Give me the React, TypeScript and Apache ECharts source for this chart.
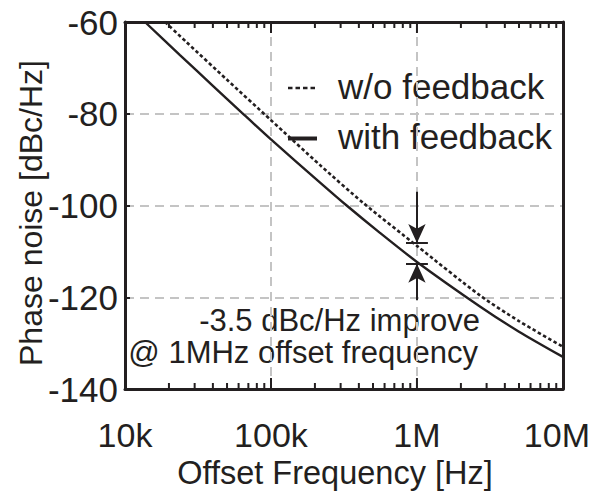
import React, { useEffect, useRef } from "react";
import * as echarts from "echarts";

// ---- data ----
const xTickValues = [1e4, 1e5, 1e6, 1e7];
const xTickLabels = ["10k", "100k", "1M", "10M"];

const freqWithFb = [13700, 23800, 40000, 63300, 100000, 217000, 330000, 550000, 1000000, 2700000, 5000000, 10000000];
const dbWithFb = [-60, -67.2, -73.9, -79.8, -85.6, -95.0, -100.0, -105.8, -112.3, -122.0, -127.5, -133.0];

const freqWithoutFb = [18800, 26400, 50000, 100000, 217000, 427000, 1000000, 2700000, 5000000, 10000000];
const dbWithoutFb = [-60, -64.4, -72.6, -81.4, -91.2, -99.4, -108.8, -119.6, -125.2, -130.8];

const minorTickFreqs = [
  2e4, 3e4, 4e4, 5e4, 6e4, 7e4, 8e4, 9e4,
  2e5, 3e5, 4e5, 5e5, 6e5, 7e5, 8e5, 9e5,
  2e6, 3e6, 4e6, 5e6, 6e6, 7e6, 8e6, 9e6,
];
const majorTickFreqs = [1e5, 1e6];

// annotation (improvement at 1 MHz)
const markFreq = 1e6;
const improvementUpper = -108.2;
const improvementLower = -112.7;
const arrowTopStart = -97.0;
const arrowBottomStart = -120.6;
const barHalfDecades = 0.075;

const INK = "#231f20";
const FONT = "Liberation Sans, Arial, Helvetica, sans-serif";

export default function App() {
  const ref = useRef<HTMLDivElement>(null);

  useEffect(() => {
    document.body.style.margin = "0";
    if (!ref.current) return;
    const chart = echarts.init(ref.current, undefined, { renderer: "svg" });

    const yMin = -140;
    const yMax = -60;

    const tickData = [
      ...minorTickFreqs.map((f) => [f, yMin, 0]),
      ...majorTickFreqs.map((f) => [f, yMin, 1]),
    ];

    const barL = markFreq * Math.pow(10, -barHalfDecades);
    const barR = markFreq * Math.pow(10, barHalfDecades);

    const xLabelFormatter = (v: number) => {
      const idx = xTickValues.findIndex((t) => Math.abs(Math.log10(t) - Math.log10(v)) < 1e-6);
      if (idx < 0) return "";
      if (idx === xTickValues.length - 1) return "{last|" + xTickLabels[idx] + "}";
      return xTickLabels[idx];
    };

    const option: any = {
      animation: false,
      grid: { left: 125, right: 30, top: 22, bottom: 107, containLabel: false },
      xAxis: [
        {
          type: "log",
          logBase: 10,
          min: 1e4,
          max: 1e7,
          name: "Offset Frequency [Hz]",
          nameLocation: "middle",
          nameGap: 66,
          nameTextStyle: { fontSize: 32.5, color: INK, fontFamily: FONT, padding: [0, 18, 0, 0] },
          axisLine: { show: true, onZero: false, lineStyle: { color: INK, width: 3 } },
          axisTick: { show: false },
          minorTick: { show: false },
          axisLabel: {
            fontSize: 34,
            color: INK,
            fontFamily: FONT,
            margin: 29,
            formatter: xLabelFormatter,
            rich: { last: { fontSize: 34, color: INK, fontFamily: FONT, padding: [0, 12, 0, 0] } },
          },
          splitLine: { show: true, lineStyle: { color: "#c4c4c4", width: 2, type: [9, 6] } },
        },
        {
          type: "log",
          logBase: 10,
          min: 1e4,
          max: 1e7,
          position: "top",
          axisLine: { show: true, onZero: false, lineStyle: { color: INK, width: 3 } },
          axisTick: { show: false },
          axisLabel: { show: false },
          splitLine: { show: false },
        },
      ],
      yAxis: [
        {
          type: "value",
          min: yMin,
          max: yMax,
          interval: 20,
          axisLine: { show: true, onZero: false, lineStyle: { color: INK, width: 3 } },
          axisTick: { show: true, inside: true, length: 5, lineStyle: { color: INK, width: 2 } },
          axisLabel: { fontSize: 35, color: INK, fontFamily: FONT, margin: 7 },
          splitLine: { show: true, lineStyle: { color: "#c4c4c4", width: 2, type: [9, 6] } },
        },
        {
          type: "value",
          min: yMin,
          max: yMax,
          interval: 20,
          position: "right",
          axisLine: { show: true, onZero: false, lineStyle: { color: INK, width: 3 } },
          axisTick: { show: false },
          axisLabel: { show: false },
          splitLine: { show: false },
        },
      ],
      series: [
        {
          name: "w/o feedback",
          type: "line",
          data: freqWithoutFb.map((f, i) => [f, dbWithoutFb[i]]),
          showSymbol: false,
          smooth: 0.25,
          lineStyle: { color: INK, width: 2.6, type: [3.5, 2.5] },
          z: 3,
        },
        {
          name: "with feedback",
          type: "line",
          data: freqWithFb.map((f, i) => [f, dbWithFb[i]]),
          showSymbol: false,
          smooth: 0.25,
          lineStyle: { color: INK, width: 2.4 },
          z: 3,
          markLine: {
            silent: true,
            animation: false,
            symbol: ["none", "arrow"],
            symbolSize: [13, 19],
            label: { show: false },
            lineStyle: { color: INK, width: 2, type: "solid" },
            data: [
              [{ coord: [markFreq, arrowTopStart] }, { coord: [markFreq, improvementUpper] }],
              [{ coord: [markFreq, arrowBottomStart] }, { coord: [markFreq, improvementLower] }],
              [
                { coord: [barL, improvementUpper], symbol: "none" },
                { coord: [barR, improvementUpper], symbol: "none" },
              ],
              [
                { coord: [barL, improvementLower], symbol: "none" },
                { coord: [barR, improvementLower], symbol: "none" },
              ],
            ],
          },
        },
        {
          type: "custom",
          silent: true,
          encode: { x: 0, y: 1 },
          data: tickData,
          z: 4,
          renderItem: (params: any, api: any) => {
            const f = api.value(0);
            const major = api.value(2) === 1;
            const len = major ? 11 : 6;
            const b = api.coord([f, yMin]);
            const t = api.coord([f, yMax]);
            const style = { stroke: INK, lineWidth: 2 };
            return {
              type: "group",
              children: [
                { type: "line", shape: { x1: b[0], y1: b[1], x2: b[0], y2: b[1] - len }, style },
                { type: "line", shape: { x1: t[0], y1: t[1], x2: t[0], y2: t[1] + len }, style },
              ],
            };
          },
        },
      ],
      graphic: [
        {
          type: "text",
          x: 31,
          y: 213,
          rotation: Math.PI / 2,
          style: { text: "Phase noise [dBc/Hz]", fontSize: 32, fill: INK, fontFamily: FONT, align: "center", verticalAlign: "middle" },
        },
        {
          type: "line",
          shape: { x1: 288, y1: 88, x2: 317, y2: 88 },
          style: { stroke: INK, lineWidth: 2.6, lineDash: [4.5, 3] },
        },
        {
          type: "text",
          x: 338,
          y: 86,
          style: { text: "w/o feedback", fontSize: 35, fill: INK, fontFamily: FONT, verticalAlign: "middle" },
        },
        {
          type: "line",
          shape: { x1: 288, y1: 138.5, x2: 317, y2: 138.5 },
          style: { stroke: INK, lineWidth: 4 },
        },
        {
          type: "text",
          x: 338,
          y: 136,
          style: { text: "with feedback", fontSize: 35, fill: INK, fontFamily: FONT, verticalAlign: "middle" },
        },
        {
          type: "text",
          x: 480,
          y: 320,
          style: { text: "-3.5 dBc/Hz improve", fontSize: 31, fill: INK, fontFamily: FONT, align: "right", verticalAlign: "middle" },
        },
        {
          type: "text",
          x: 478,
          y: 352,
          style: { text: "@ 1MHz offset frequency", fontSize: 31, fill: INK, fontFamily: FONT, align: "right", verticalAlign: "middle" },
        },
      ],
    };

    chart.setOption(option);
    return () => chart.dispose();
  }, []);

  return <div ref={ref} style={{ width: 593, height: 496 }} />;
}
